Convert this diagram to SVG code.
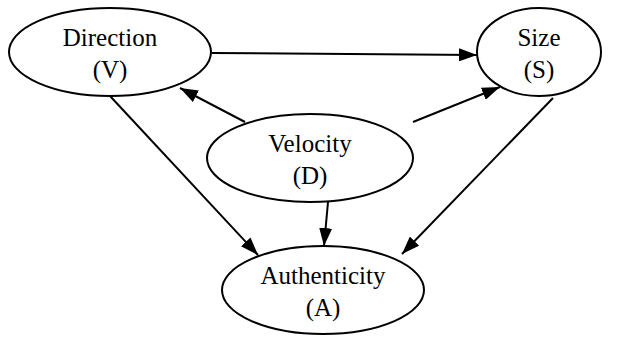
<svg xmlns="http://www.w3.org/2000/svg" width="623" height="347" viewBox="0 0 623 347">
<style>
.node ellipse{fill:none;stroke:#000;stroke-width:2}
.node text{font-family:"Liberation Serif","Times New Roman",serif;font-size:25px;text-anchor:middle;fill:#000}
.edges line{stroke:#000;stroke-width:2;marker-end:url(#ah)}
</style>
<defs>
<marker id="ah" markerUnits="userSpaceOnUse" markerWidth="18" markerHeight="13" refX="18" refY="6.5" orient="auto">
<path d="M0,0 L18,6.5 L0,13 z" fill="#000"/>
</marker>
</defs>
<rect width="623" height="347" fill="#fff"/>
<g class="edges">
<line x1="212" y1="53" x2="477" y2="55"/>
<line x1="245" y1="122" x2="180" y2="88"/>
<line x1="413" y1="122" x2="500" y2="87"/>
<line x1="110" y1="96" x2="258" y2="255"/>
<line x1="328" y1="202" x2="324" y2="246"/>
<line x1="553" y1="98" x2="402" y2="254"/>
</g>
<g id="direction" class="node">
<ellipse cx="110" cy="52" rx="101" ry="44"/>
<text x="110" y="46">Direction</text>
<text x="110" y="78">(V)</text>
</g>
<g id="size" class="node">
<ellipse cx="539" cy="52" rx="62" ry="44"/>
<text x="539" y="46">Size</text>
<text x="539" y="78">(S)</text>
</g>
<g id="velocity" class="node">
<ellipse cx="310" cy="158" rx="103" ry="44"/>
<text x="310" y="152">Velocity</text>
<text x="310" y="184">(D)</text>
</g>
<g id="authenticity" class="node">
<ellipse cx="323" cy="290" rx="101" ry="44"/>
<text x="323" y="284">Authenticity</text>
<text x="323" y="316">(A)</text>
</g>
</svg>
